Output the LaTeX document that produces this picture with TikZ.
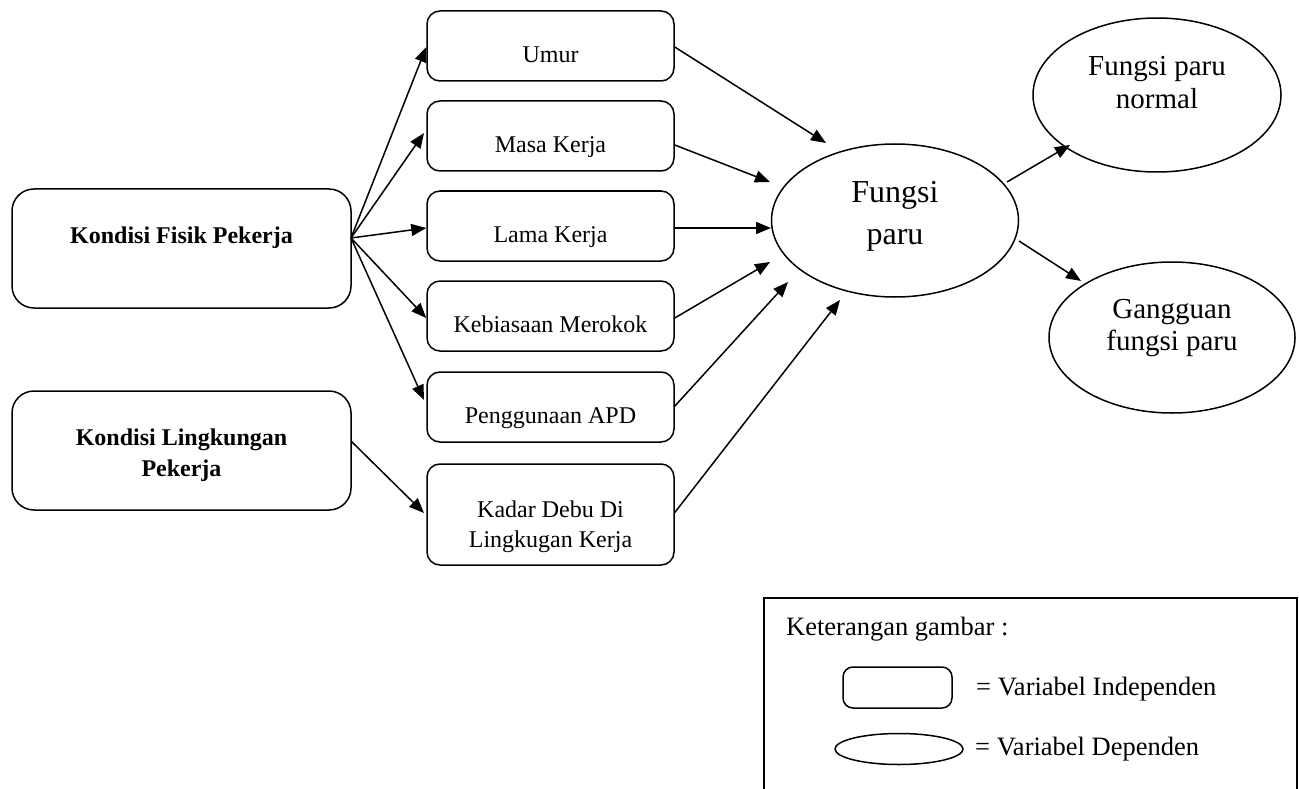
\documentclass[tikz,border=0pt]{standalone}
\usepackage{fontspec}
\setmainfont{Liberation Serif}
\usetikzlibrary{arrows.meta,shapes.geometric,calc}
\tikzset{
  bigbox/.style={draw, line width=1.5pt, rounded corners=22pt, minimum width=339pt, minimum height=119pt, inner sep=0pt},
  varbox/.style={draw, line width=1.5pt, rounded corners=13pt, minimum width=247pt, minimum height=70pt, inner sep=0pt},
  dep/.style={draw, ellipse, line width=1.5pt, minimum width=247pt, minimum height=153pt, inner sep=0pt},
  arr/.style={-{Triangle[length=15pt,width=12pt]}, line width=1.5pt},
  txt/.style={font=\fontsize{24}{28}\selectfont, inner sep=0pt, anchor=base},
  btxt/.style={font=\fontsize{24}{28}\selectfont\bfseries, inner sep=0pt, anchor=base},
  etxt/.style={font=\fontsize{29}{33}\selectfont, inner sep=0pt, anchor=base},
  ctxt/.style={font=\fontsize{32}{38}\selectfont, inner sep=0pt, anchor=base},
  ltxt/.style={font=\fontsize{26.5}{30}\selectfont, inner sep=0pt, anchor=base west},
}
\begin{document}
\begin{tikzpicture}[x=1pt,y=-1pt]
\useasboundingbox (0,0) rectangle (1299,789);
% left boxes
\node[bigbox] (fisik) at (181.5,248.5) {};
\node[btxt] (tfisik) at (181.5,243) {Kondisi Fisik Pekerja};
\node[bigbox] (lingk) at (181.5,450.5) {};
\node[btxt] (tlingk1) at (181.5,445) {Kondisi Lingkungan};
\node[btxt] (tlingk2) at (181.5,476) {Pekerja};
% middle boxes
\node[varbox] (umur) at (550.5,46) {};
\node[txt] (tumur) at (550.5,63) {Umur};
\node[varbox] (masa) at (550.5,136) {};
\node[txt] (tmasa) at (550.5,153) {Masa Kerja};
\node[varbox] (lama) at (550.5,226) {};
\node[txt] (tlama) at (550.5,242) {Lama Kerja};
\node[varbox] (rokok) at (550.5,316) {};
\node[txt] (trokok) at (550.5,332) {Kebiasaan Merokok};
\node[varbox] (apd) at (550.5,407) {};
\node[txt] (tapd) at (550.5,423) {Penggunaan APD};
\node[varbox, minimum height=101pt] (debu) at (550.5,514.5) {};
\node[txt] (tdebu1) at (550.5,517) {Kadar Debu Di};
\node[txt] (tdebu2) at (550.5,547) {Lingkugan Kerja};
% ellipses
\node[dep] (fp) at (895,220.5) {};
\node[ctxt] (tfp1) at (895,203) {Fungsi};
\node[ctxt] (tfp2) at (895,244) {paru};
\node[dep, minimum width=248pt, minimum height=154pt] (normal) at (1157,95) {};
\node[etxt] (tnorm1) at (1157,76) {Fungsi paru};
\node[etxt] (tnorm2) at (1157,109) {normal};
\node[dep, minimum width=246pt, minimum height=151pt] (gang) at (1172,337.5) {};
\node[etxt] (tgang1) at (1172,318) {Gangguan};
\node[etxt] (tgang2) at (1172,350) {fungsi paru};
% arrows from Kondisi Fisik
\coordinate (fout) at (351,238);
\draw[arr] (fout) -- ([yshift=-1pt]umur.west);
\draw[arr] (fout) -- (424,133);
\draw[arr] (fout) -- ([yshift=-2pt]lama.west);
\draw[arr] (fout) -- ([yshift=-2pt]rokok.west);
\draw[arr] (fout) -- (424,400);
\coordinate (lout) at (351,441);
\draw[arr] (lout) -- (424,513);
% arrows into Fungsi paru
\coordinate (inA) at (826,143);
\coordinate (inB) at (770,182);
\coordinate (inC) at (771,228);
\coordinate (inD) at (770,262);
\coordinate (inE) at (788,282);
\coordinate (inF) at (840,300);
\draw[arr] ([yshift=-1pt]umur.east) -- (inA);
\draw[arr] ([yshift=-9pt]masa.east) -- (inB);
\draw[arr] ([yshift=-2pt]lama.east) -- (inC);
\draw[arr] ([yshift=-2pt]rokok.east) -- (inD);
\draw[arr] (674,407) -- (inE);
\draw[arr] ([yshift=2pt]debu.east) -- (inF);
% outputs
\coordinate (outN) at (1007,182);
\coordinate (outG) at (1019,241);
\draw[arr] (outN) -- (1070,145);
\draw[arr] (outG) -- (1081,281);
% legend
\draw[line width=1.5pt] (764,789) -- (764,598) -- (1297,598) -- (1297,789);
\node[ltxt] (lkt) at (786,635) {Keterangan gambar :};
\draw[line width=1.5pt, rounded corners=10pt] (843,667) rectangle (952,708);
\node[ltxt] (lind) at (976,695) {= Variabel Independen};
\draw[line width=1.5pt] (899,749) ellipse [x radius=64, y radius=15.5];
\node[ltxt] (ldep) at (975,755) {= Variabel Dependen};
\end{tikzpicture}
\end{document}
